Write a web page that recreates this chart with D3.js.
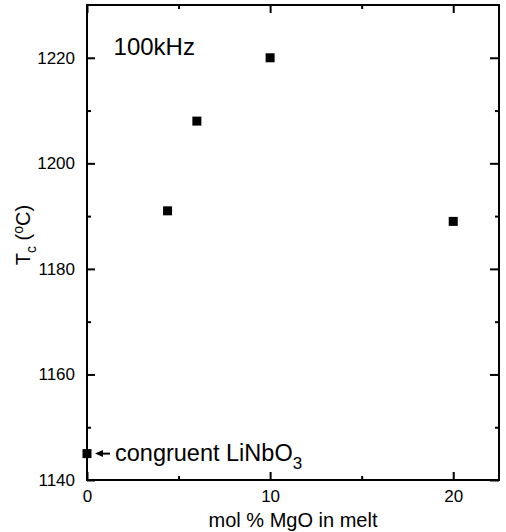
<!DOCTYPE html>
<html>
<head>
<meta charset="utf-8">
<script src="https://cdn.jsdelivr.net/npm/d3@7"></script>
<style>
  body { margin: 0; background: #fff; }
  text { font-family: "Liberation Sans", Arial, Helvetica, sans-serif; fill: #000; }
</style>
</head>
<body>
<script>
// data
var molMgO = [0, 4.4, 6, 10, 20];
var tcValues = [1145, 1191, 1208, 1220, 1189];
var xTicks = [0, 10, 20];
var xMinorTicks = [5, 15];
var yTicks = [1140, 1160, 1180, 1200, 1220];
var yMinorTicks = [1150, 1170, 1190, 1210];

var width = 506, height = 532;
var margin = {top: 5, right: 7, bottom: 52, left: 87};

var svg = d3.select('body').append('svg')
  .attr('width', width)
  .attr('height', height);

var x = d3.scaleLinear().domain([0, 22.5]).range([margin.left, width - margin.right]);
var y = d3.scaleLinear().domain([1140, 1230]).range([height - margin.bottom, margin.top]);

var plotW = x.range()[1] - x.range()[0];
var plotH = y.range()[0] - y.range()[1];
var fmt = d3.format('d');

// bottom axis, ticks inward
svg.append('g')
  .attr('transform', 'translate(0,' + y(1140) + ')')
  .call(d3.axisBottom(x).tickValues(xTicks).tickFormat(fmt).tickSizeInner(-8).tickSizeOuter(0).tickPadding(10));
svg.append('g')
  .attr('transform', 'translate(0,' + y(1140) + ')')
  .call(d3.axisBottom(x).tickValues(xMinorTicks).tickSizeInner(-4).tickSizeOuter(0).tickFormat(''));

// top axis
svg.append('g')
  .attr('transform', 'translate(0,' + y(1230) + ')')
  .call(d3.axisTop(x).tickValues(xTicks).tickSizeInner(-8).tickSizeOuter(0).tickFormat(''));
svg.append('g')
  .attr('transform', 'translate(0,' + y(1230) + ')')
  .call(d3.axisTop(x).tickValues(xMinorTicks).tickSizeInner(-4).tickSizeOuter(0).tickFormat(''));

// left axis
svg.append('g')
  .attr('transform', 'translate(' + x(0) + ',0)')
  .call(d3.axisLeft(y).tickValues(yTicks).tickFormat(fmt).tickSizeInner(-8).tickSizeOuter(0).tickPadding(12));
svg.append('g')
  .attr('transform', 'translate(' + x(0) + ',0)')
  .call(d3.axisLeft(y).tickValues(yMinorTicks).tickSizeInner(-4).tickSizeOuter(0).tickFormat(''));

// right axis
svg.append('g')
  .attr('transform', 'translate(' + x(22.5) + ',0)')
  .call(d3.axisRight(y).tickValues(yTicks).tickSizeInner(-9).tickSizeOuter(0).tickFormat(''));
svg.append('g')
  .attr('transform', 'translate(' + x(22.5) + ',0)')
  .call(d3.axisRight(y).tickValues(yMinorTicks).tickSizeInner(-4).tickSizeOuter(0).tickFormat(''));

svg.selectAll('.domain').remove();
svg.selectAll('.tick line').attr('stroke', '#000').attr('stroke-width', 2);
svg.selectAll('.tick text').style('font-size', '17px').attr('fill', '#000');

// frame
svg.append('rect')
  .attr('x', x(0))
  .attr('y', y(1230))
  .attr('width', plotW)
  .attr('height', plotH)
  .attr('fill', 'none')
  .attr('stroke', '#000')
  .attr('stroke-width', 2);

// square markers
var size = 9;
svg.selectAll('rect.pt')
  .data(molMgO)
  .enter()
  .append('rect')
  .attr('class', 'pt')
  .attr('x', function(d) { return x(d) - size / 2; })
  .attr('y', function(d, i) { return y(tcValues[i]) - size / 2; })
  .attr('width', size)
  .attr('height', size)
  .attr('fill', '#000');

// annotation: frequency
svg.append('text')
  .attr('x', x(1.45))
  .attr('y', y(1220.6))
  .style('font-size', '24px')
  .text('100kHz');

// annotation: congruent LiNbO3 with arrow
var ay = y(tcValues[0]);
svg.append('line')
  .attr('x1', x(0) + 23).attr('x2', x(0) + 11)
  .attr('y1', ay).attr('y2', ay)
  .attr('stroke', '#000').attr('stroke-width', 2);
svg.append('path')
  .attr('d', 'M' + (x(0) + 8) + ',' + ay + 'l8,-3.5l0,7z')
  .attr('fill', '#000');
var cong = svg.append('text')
  .attr('x', x(0) + 28)
  .attr('y', ay + 7)
  .style('font-size', '23.5px');
cong.append('tspan').text('congruent LiNbO');
cong.append('tspan').attr('dy', 8).style('font-size', '17px').text('3');

// x label
svg.append('text')
  .attr('x', (x(0) + x(22.5)) / 2)
  .attr('y', 527)
  .attr('text-anchor', 'middle')
  .style('font-size', '20px')
  .text('mol % MgO in melt');

// y label
var yl = svg.append('text')
  .attr('transform', 'translate(30,235) rotate(-90)')
  .attr('text-anchor', 'middle')
  .style('font-size', '20px');
yl.append('tspan').text('T');
yl.append('tspan').attr('dy', 6).style('font-size', '14px').text('c');
yl.append('tspan').attr('dy', -6).text(' (');
yl.append('tspan').attr('dy', -7).style('font-size', '14px').text('o');
yl.append('tspan').attr('dy', 7).text('C)');
</script>
</body>
</html>
